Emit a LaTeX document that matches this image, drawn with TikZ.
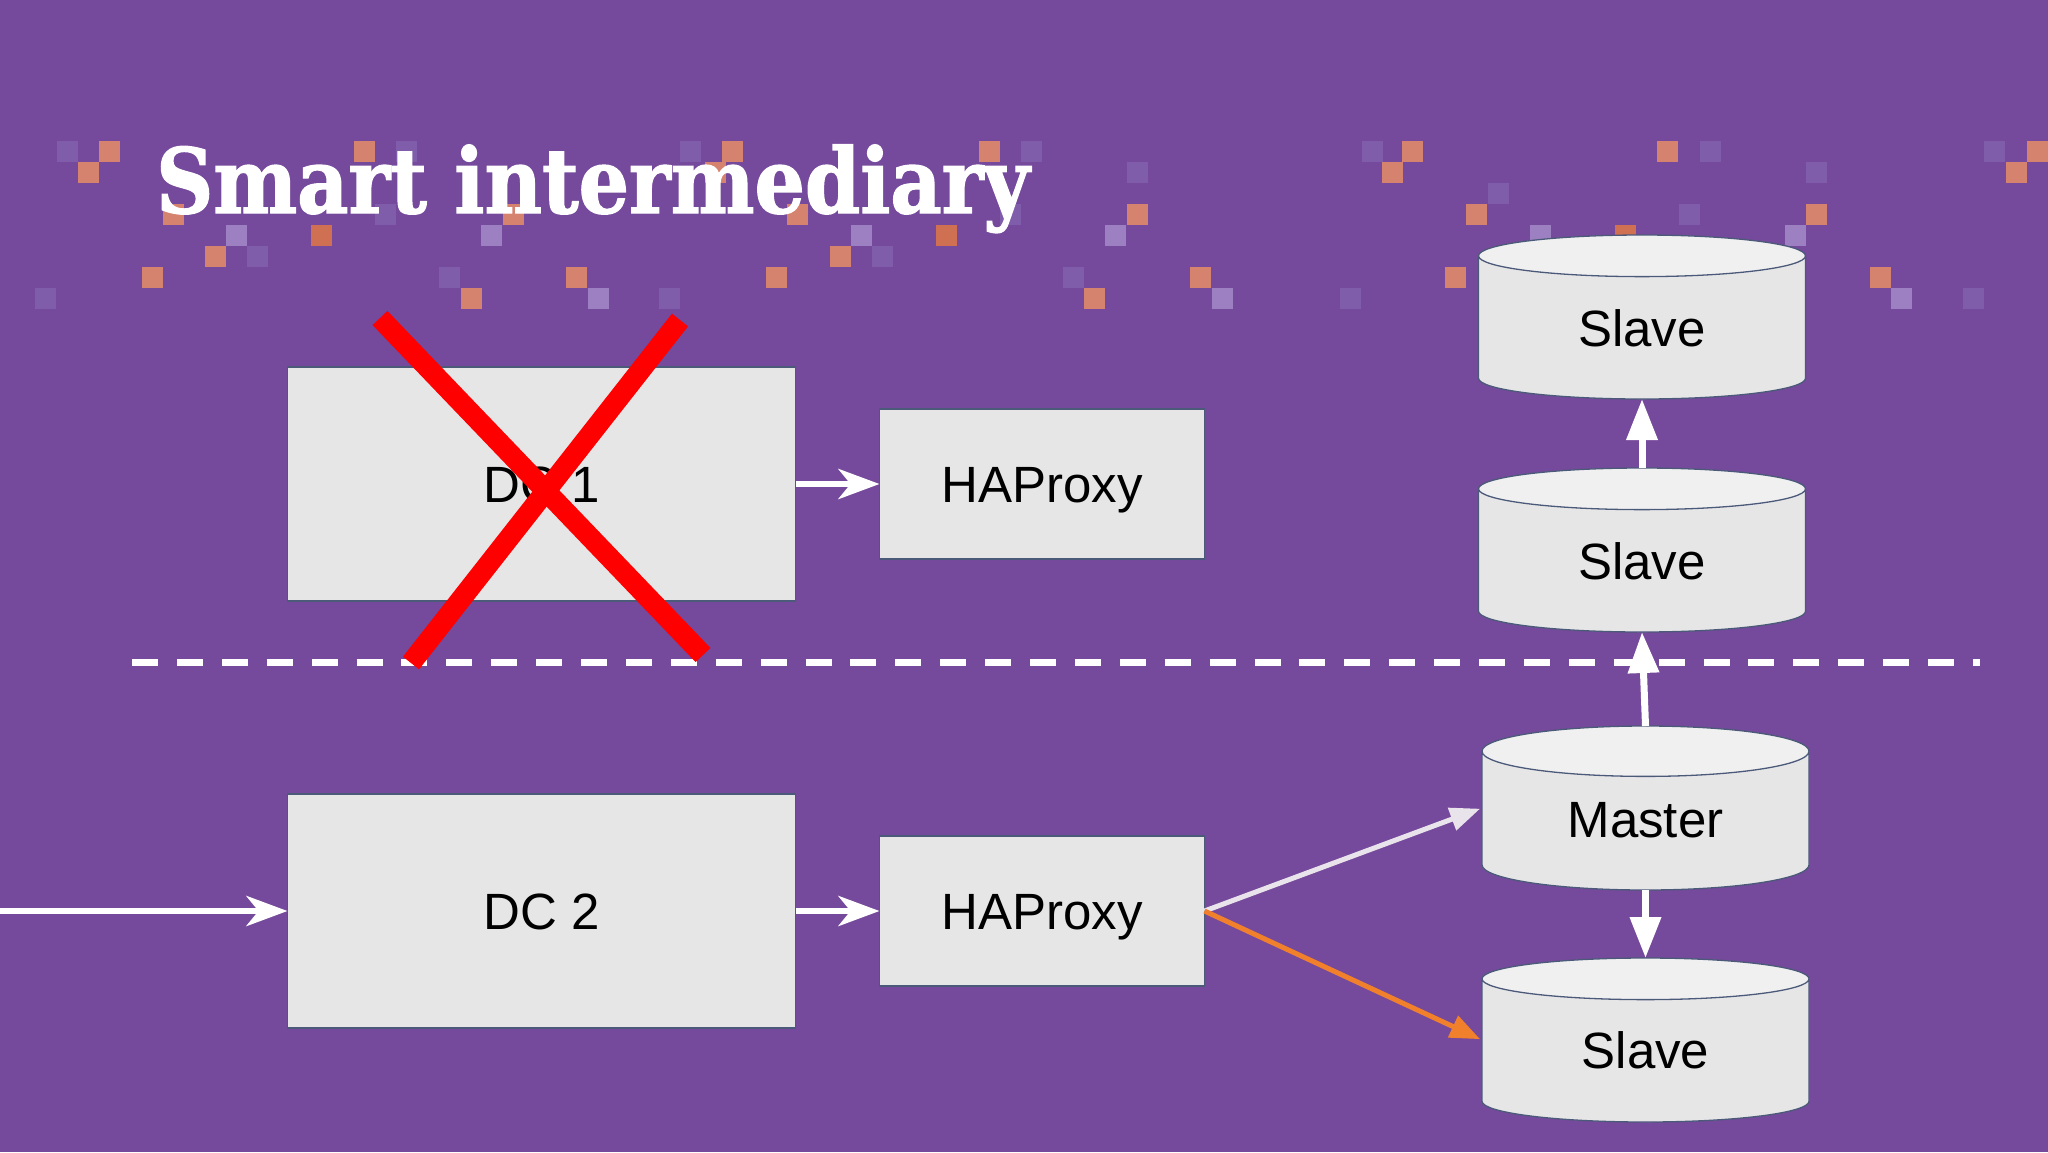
\documentclass[tikz,border=0pt]{standalone}
\usepackage{fontspec}
\setmainfont{Liberation Sans}
\newfontfamily\titlefont[FakeStretch=0.88,BoldFeatures={FakeBold=1.5}]{DejaVu Serif}
\usetikzlibrary{arrows.meta,shapes.geometric}
\definecolor{slidebg}{HTML}{75499B}
\definecolor{boxfill}{HTML}{E6E6E7}
\definecolor{boxtop}{HTML}{F0F0F1}
\definecolor{boxline}{HTML}{4C5A7A}
\definecolor{pixfaint}{HTML}{805DAA}
\definecolor{pixlight}{HTML}{9C80C1}
\definecolor{pixorange}{HTML}{D5826E}
\definecolor{pixstrong}{HTML}{CF7052}
\definecolor{linkorange}{HTML}{F0802B}
\definecolor{linkpale}{HTML}{E9E4EC}
\begin{document}
\begin{tikzpicture}[
x=1pt, y=-1pt,
pagetext/.style={font=\fontsize{51}{60}\selectfont, text=black, text height=37pt, text depth=0pt},
dcnode/.style={rectangle, draw=boxline, fill=boxfill, line width=1.3pt, outer sep=0pt, minimum width=508pt, minimum height=234pt, pagetext},
proxynode/.style={rectangle, draw=boxline, fill=boxfill, line width=1.3pt, outer sep=0pt, minimum width=325pt, minimum height=150pt, pagetext},
dbnode/.style={cylinder, shape border rotate=90, aspect=0.31, anchor=shape center, draw=boxline, line width=1.3pt, outer sep=0pt, minimum width=327pt, minimum height=164pt, cylinder uses custom fill, cylinder body fill=boxfill, cylinder end fill=boxtop, pagetext, text height=34pt},
smallarrow/.style={draw=white, line width=6.5pt, -{Stealth[length=41pt, width=30pt, inset=12pt]}},
bigarrow/.style={draw=white, line width=7pt, -{Triangle[length=41pt, width=30pt]}},
thinarrow/.style={line width=5pt, shorten >=2pt, -{Triangle[length=30pt, width=23pt]}},
crossline/.style={draw=red, line width=20.5pt},
]
    \fill [slidebg] (0,0) rectangle (2048,1152);
    \useasboundingbox (0,0) rectangle (2048,1152);

    \foreach \px/\py in {57/141,396/141,680/141,1021/141,1362/141,1700/141,1984/141,1127/162,1806/162,1488/183,375/204,1000/204,1679/204,247/246,872/246,439/267,1063/267,35/288,659/288,1340/288,1963/288}
        \fill [pixfaint] (\px,\py) rectangle ++(21,21);
    \foreach \px/\py in {226/225,481/225,851/225,1105/225,1530/225,1785/225,588/288,1212/288,1891/288}
        \fill [pixlight] (\px,\py) rectangle ++(21,21);
    \foreach \px/\py in {99/141,354/141,722/141,979/141,1402/141,1657/141,2027/141,78/162,705/162,1382/162,2006/162,163/204,503/204,787/204,1127/204,1466/204,1806/204,205/246,830/246,142/267,566/267,766/267,1190/267,1445/267,1870/267,461/288,1084/288}
        \fill [pixorange] (\px,\py) rectangle ++(21,21);
    \foreach \px/\py in {311/225,936/225,1615/225}
        \fill [pixstrong] (\px,\py) rectangle ++(21,21);

    \node [anchor=base west, inner sep=0pt, text=white, font=\titlefont\bfseries\fontsize{90}{100}\selectfont] (title) at (156,213) {Smart intermediary};

    \node [dcnode] (dc1) at (541.5,484) {DC 1};
    \node [dcnode] (dc2) at (541.5,911) {DC 2};
    \node [proxynode] (ha1) at (1042,484) {HAProxy};
    \node [proxynode] (ha2) at (1042,911) {HAProxy};

    \node [dbnode] (slave1) at (1642,317) {Slave};
    \node [dbnode] (slave2) at (1642,550) {Slave};
    \node [dbnode, text height=29pt] (master) at (1645.5,808) {Master};
    \node [dbnode, text height=32pt] (slave3) at (1645.5,1040) {Slave};

    \coordinate (entry) at (0,911);
    \coordinate (dashl) at (132,662.5);
    \coordinate (dashr) at (1980,662.5);
    \coordinate (crossa) at (380,318);
    \coordinate (crossb) at (703,655);
    \coordinate (crossc) at (680,320);
    \coordinate (crossd) at (411,663);

    \draw [white, line width=6.5pt, dash pattern=on 26pt off 18.9pt] (dashl) to (dashr);

    \draw [smallarrow] (entry) to (dc2.west);
    \draw [smallarrow] (dc1.east) to (ha1.west);
    \draw [smallarrow] (dc2.east) to (ha2.west);
    \draw [bigarrow] (slave2.north) to (slave1.south);
    \draw [bigarrow] (master.north) to (slave2.south);
    \draw [bigarrow] (master.south) to (slave3.north);
    \draw [thinarrow, draw=linkpale, fill=linkpale] (ha2.east) to (master.shape center -| master.west);
    \draw [thinarrow, draw=linkorange, fill=linkorange] (ha2.east) to (slave3.shape center -| slave3.west);

    \draw [crossline] (crossa) to (crossb);
    \draw [crossline] (crossc) to (crossd);
\end{tikzpicture}
\end{document}
